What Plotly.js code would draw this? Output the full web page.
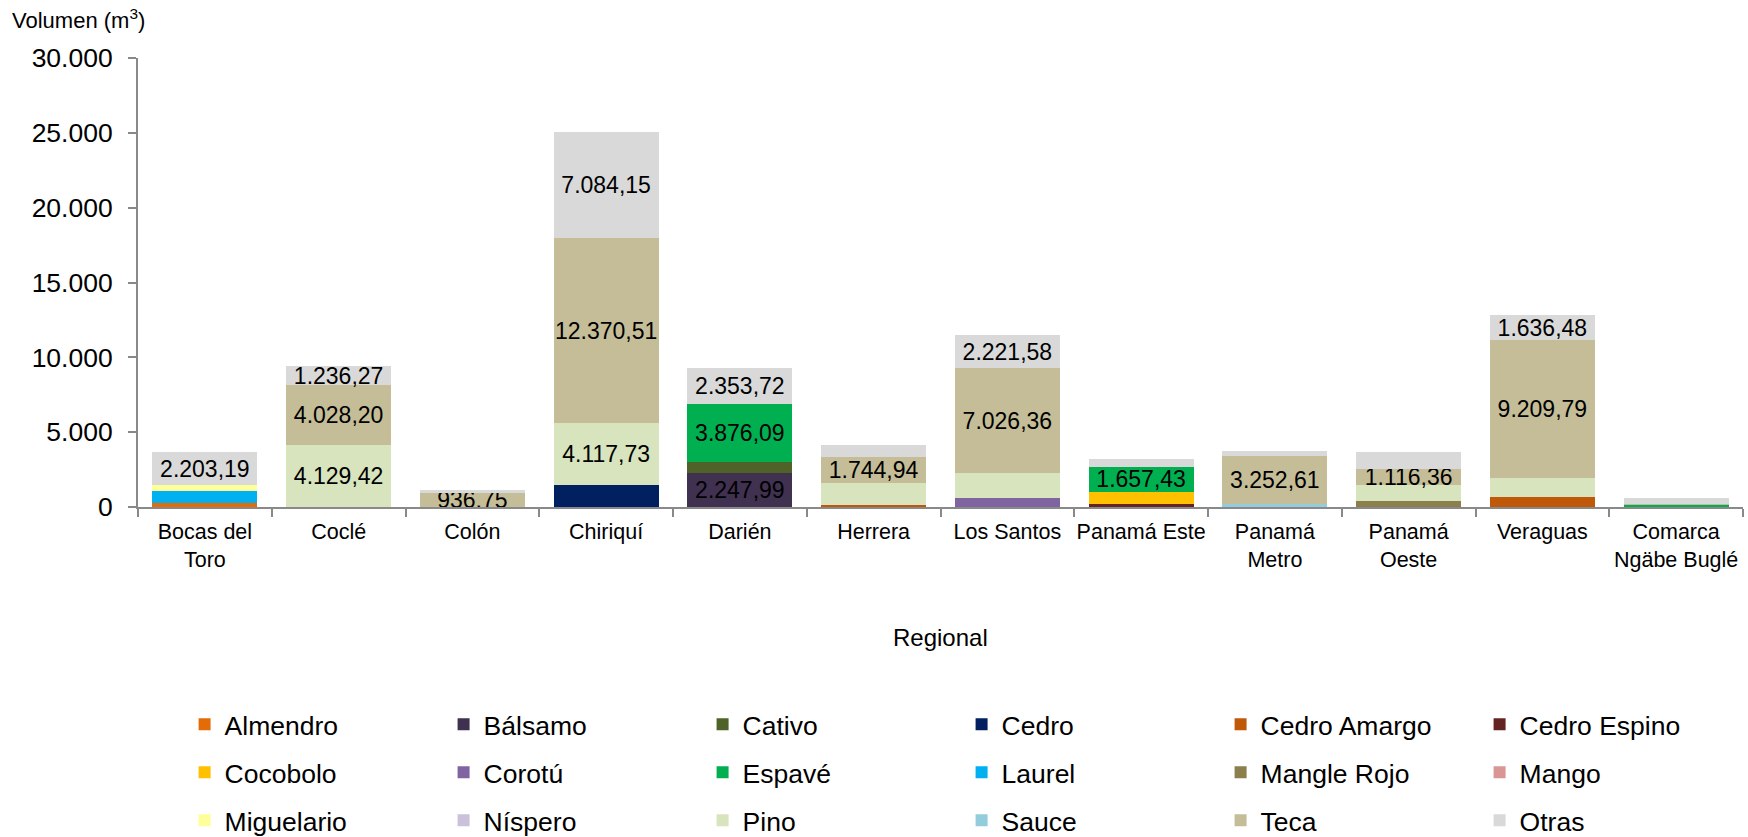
<!DOCTYPE html>
<html>
<head>
<meta charset="utf-8">
<script src="https://cdn.plot.ly/plotly-3.0.1.min.js"></script>
<style>html,body{margin:0;padding:0;background:#fff;}#chart{width:1748px;height:837px;}</style>
</head>
<body>
<div id="chart"></div>
<script>
const categories = ["Bocas del<br>Toro","Coclé","Colón","Chiriquí","Darién","Herrera","Los Santos","Panamá Este","Panamá<br>Metro","Panamá<br>Oeste","Veraguas","Comarca<br>Ngäbe Buglé"];

const almendro    = [290,0,0,0,0,0,0,0,0,0,0,0];
const balsamo     = [0,0,0,0,2247.99,0,0,0,0,0,0,0];
const cativo      = [0,0,0,0,780,0,0,0,0,0,0,0];
const cedro       = [0,0,0,1470,0,0,0,0,0,0,0,0];
const cedroAmargo = [0,0,0,0,0,150,0,0,0,0,690,0];
const cedroEspino = [0,0,0,0,0,0,0,200,0,0,0,0];
const cocobolo    = [0,0,0,0,0,0,0,820,0,0,0,0];
const corotu      = [0,0,0,0,0,0,590,0,0,0,0,0];
const espave      = [0,0,0,0,3876.09,0,0,1657.43,0,0,0,120];
const laurel      = [780,0,0,0,0,0,0,0,0,0,0,0];
const mangleRojo  = [0,0,0,0,0,0,0,0,0,400,0,0];
const mango       = [0,0,0,0,0,0,0,0,0,0,0,25];
const miguelario  = [380,0,0,0,0,0,0,0,0,0,0,0];
const nispero     = [0,0,0,0,0,0,0,0,0,0,0,0];
const pino        = [0,4129.42,0,4117.73,0,1450,1650,0,0,1050,1270,0];
const sauce       = [0,0,0,0,0,0,0,0,170,0,0,0];
const teca        = [0,4028.20,936.75,12370.51,0,1744.94,7026.36,0,3252.61,1116.36,9209.79,70];
const otras       = [2203.19,1236.27,220,7084.15,2353.72,780,2221.58,557,334,1113,1636.48,360];

// which segments carry a value label (by category index)
const labelled = {
  "Bálsamo":[4],
  "Espavé":[4,7],
  "Pino":[1,3],
  "Teca":[1,2,3,5,6,8,9,10],
  "Otras":[0,1,3,4,6,10]
};

const series = [
  ["Almendro", almendro, "#E36C09"],
  ["Bálsamo", balsamo, "#403151"],
  ["Cativo", cativo, "#4F6228"],
  ["Cedro", cedro, "#002060"],
  ["Cedro Amargo", cedroAmargo, "#C0580A"],
  ["Cedro Espino", cedroEspino, "#632523"],
  ["Cocobolo", cocobolo, "#FFC000"],
  ["Corotú", corotu, "#8064A2"],
  ["Espavé", espave, "#00B050"],
  ["Laurel", laurel, "#00B0F0"],
  ["Mangle Rojo", mangleRojo, "#8B7F4E"],
  ["Mango", mango, "#D99694"],
  ["Miguelario", miguelario, "#FFFF99"],
  ["Níspero", nispero, "#CCC1DA"],
  ["Pino", pino, "#D7E4BD"],
  ["Sauce", sauce, "#93CDDD"],
  ["Teca", teca, "#C4BD97"],
  ["Otras", otras, "#D9D9D9"]
];

function fmt(v){
  const parts = v.toFixed(2).split(".");
  const intPart = parts[0].replace(/\B(?=(\d{3})+(?!\d))/g, ".");
  return intPart + "," + parts[1];
}

const FONT = "Liberation Sans, Arial, sans-serif";
const legendNames = ["legend", "legend2", "legend3"];

const traces = series.map(([name, vals, color], k) => {
  const idx = labelled[name] || [];
  return {
    type: "bar",
    name: name,
    x: categories,
    y: vals,
    legend: legendNames[Math.floor(k / 6)],
    marker: {color: color, line: {width: 0}},
    text: vals.map((v,i) => idx.includes(i) ? fmt(v) : ""),
    textposition: "inside",
    insidetextanchor: "middle",
    constraintext: "none",
    textangle: 0,
    textfont: {family: FONT, size: 23, color: "#000"},
    hoverinfo: "name+y"
  };
});

function legendRow(y){
  return {
    orientation: "h",
    traceorder: "normal",
    xref: "container",
    yref: "container",
    x: 0.1056,
    xanchor: "left",
    y: y,
    yanchor: "middle",
    entrywidth: 214,
    entrywidthmode: "pixels",
    bgcolor: "rgba(0,0,0,0)",
    font: {family: FONT, size: 26.5, color: "#000"},
    itemclick: false
  };
}

const layout = {
  width: 1748,
  height: 837,
  barmode: "stack",
  bargap: 0.215,
  paper_bgcolor: "#fff",
  plot_bgcolor: "#fff",
  margin: {l: 138, r: 5, t: 58, b: 330, autoexpand: false},
  font: {family: FONT, color: "#000"},
  xaxis: {
    type: "category",
    showline: true,
    linecolor: "#898989",
    linewidth: 2,
    ticks: "outside",
    tickson: "boundaries",
    ticklen: 8,
    tickcolor: "#898989",
    tickwidth: 2,
    tickangle: 0,
    automargin: false,
    ticklabelstandoff: 4,
    tickfont: {family: FONT, size: 21.5, color: "#000"},
    showgrid: false,
    zeroline: false
  },
  yaxis: {
    range: [0, 30000],
    tickvals: [0,5000,10000,15000,20000,25000,30000],
    ticktext: ["0","5.000","10.000","15.000","20.000","25.000","30.000"],
    showline: true,
    linecolor: "#898989",
    linewidth: 2,
    ticks: "outside",
    ticklen: 8,
    tickcolor: "#898989",
    tickwidth: 2,
    ticklabelstandoff: 10,
    automargin: false,
    tickfont: {family: FONT, size: 26.5, color: "#000"},
    showgrid: false,
    zeroline: false
  },
  showlegend: true,
  legend: legendRow(0.1343),
  legend2: legendRow(0.0769),
  legend3: legendRow(0.0197),
  annotations: [
    {text: "Volumen (m<sup>3</sup>)", xref: "paper", yref: "paper", x: -0.0796, y: 1.087, xanchor: "left", yanchor: "middle", showarrow: false, font: {family: FONT, size: 22, color: "#000"}},
    {text: "Regional", xref: "paper", yref: "paper", x: 0.5, y: -0.291, xanchor: "center", yanchor: "middle", showarrow: false, font: {family: FONT, size: 24, color: "#000"}}
  ]
};

Plotly.newPlot("chart", traces, layout, {displayModeBar: false, staticPlot: true});
</script>
</body>
</html>
